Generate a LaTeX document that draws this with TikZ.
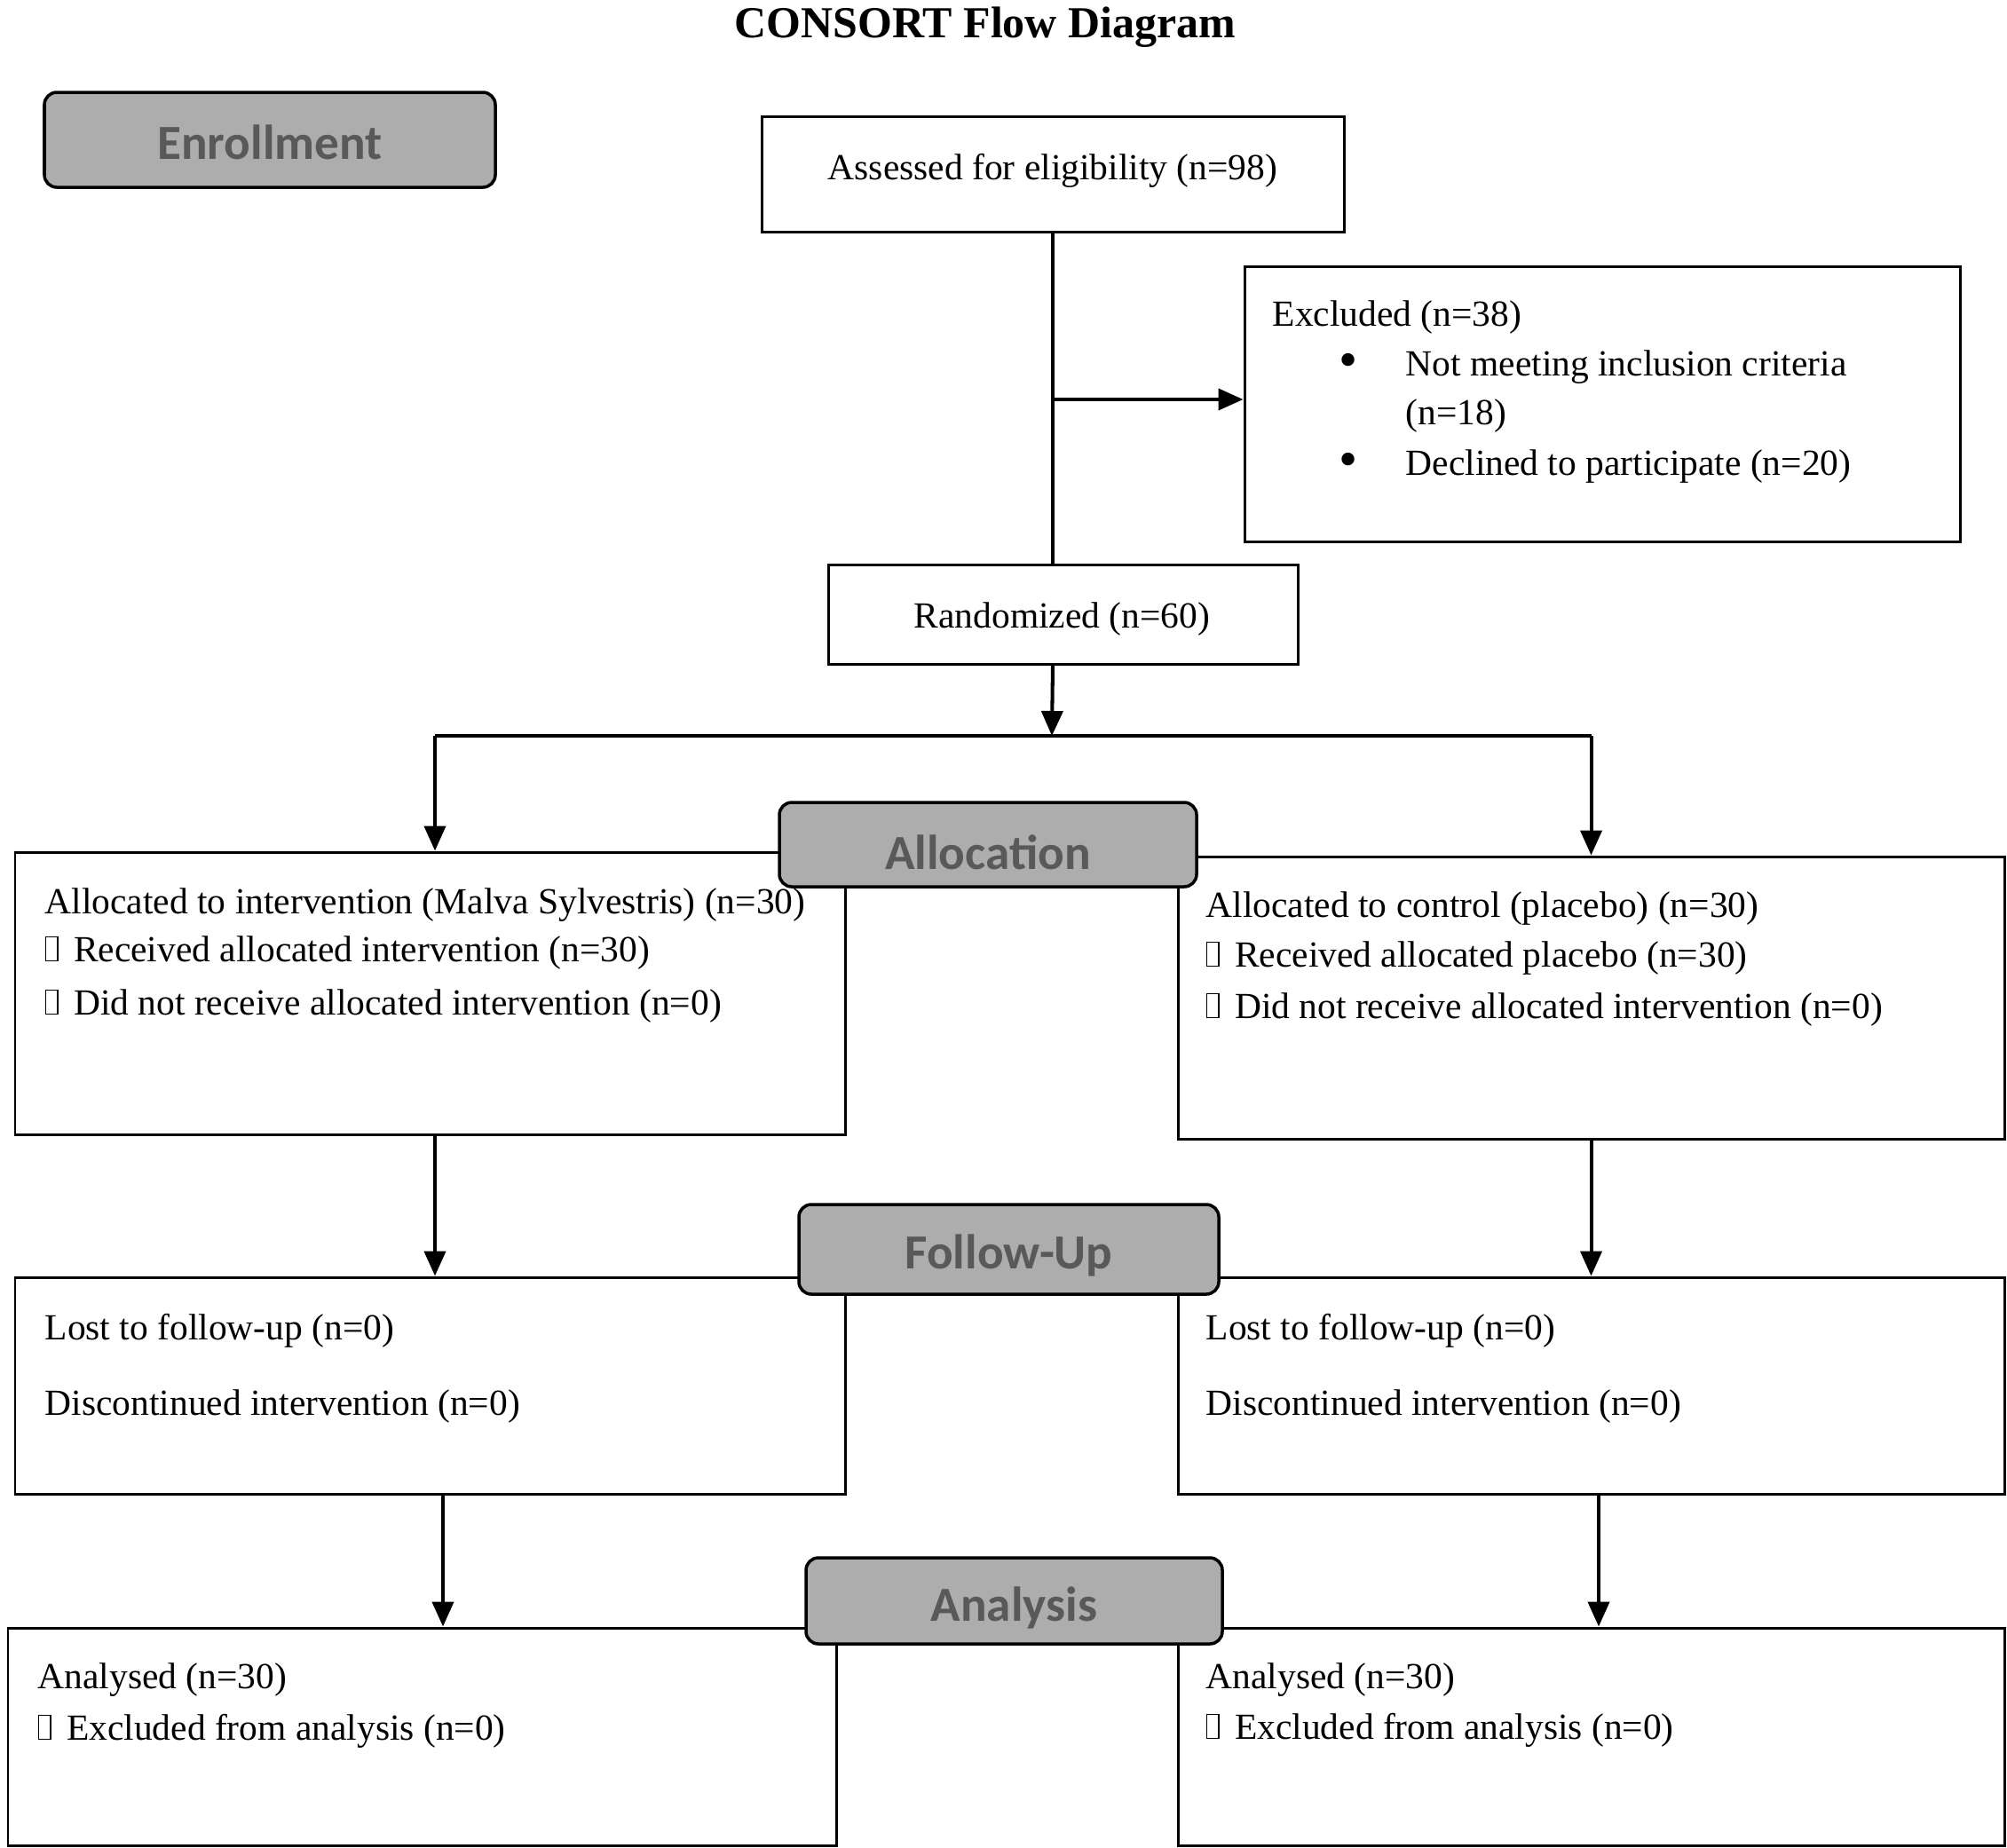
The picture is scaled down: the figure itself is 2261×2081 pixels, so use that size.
\documentclass[tikz,border=0pt]{standalone}
\usepackage{fontspec}
\setmainfont{Liberation Serif}
\newfontfamily\hdrfont{Carlito}
\usetikzlibrary{fit,arrows.meta,calc}
\definecolor{hdrfill}{HTML}{ADADAD}
\definecolor{hdrtext}{HTML}{595959}
\newcommand\tofu{{\setlength\fboxsep{0pt}\setlength\fboxrule{0.35pt}\raisebox{0.02em}{\fbox{\rule{0pt}{0.62em}\hspace{0.3em}}}}\hspace{0.42em}}
\newcommand\bigbullet{\raisebox{-0.05em}{\scalebox{1.45}{\textbullet}}}
\tikzset{
  box/.style={draw, line width=0.85pt, inner sep=0pt},
  hdr/.style={draw, line width=1pt, fill=hdrfill, rounded corners=0.14cm, inner sep=0pt},
  hdrtxt/.style={inner sep=0pt, font=\hdrfont\bfseries\fontsize{15.7}{18}\selectfont, text=hdrtext},
  ctxt/.style={inner sep=0pt, font=\fontsize{11.8}{14}\selectfont},
  txt/.style={anchor=base west, inner sep=0pt, font=\fontsize{11.8}{14}\selectfont},
  arr/.style={line width=1.15pt, -{Triangle[length=0.28cm,width=0.24cm]}},
  ln/.style={line width=1.15pt}
}
\begin{document}
\begin{tikzpicture}[x=0.01cm,y=-0.01cm]
\useasboundingbox (0,0) rectangle (2261,2081);
\node[font=\bfseries\fontsize{14.2}{17}\selectfont, inner sep=0pt] (title) at (1110,31) {CONSORT Flow Diagram};

% boxes
\node[box, fit={(858,131) (1514,261)}] (assess) {};
\node[ctxt] (assesst) at ([yshift=0.04cm]assess.center) {Assessed for eligibility (n=98)};
\node[box, fit={(1402,300) (2208,610)}] (excl) {};
\node[box, fit={(933,636) (1462,748)}] (rand) {};
\node[ctxt] (randt) at ([xshift=-0.01cm,yshift=-0.05cm]rand.center) {Randomized (n=60)};
\node[box, fit={(17,960) (952,1278)}] (allocL) {};
\node[box, fit={(1327,965) (2258,1283)}] (allocR) {};
\node[box, fit={(17,1439) (952,1683)}] (fuL) {};
\node[box, fit={(1327,1439) (2258,1683)}] (fuR) {};
\node[box, fit={(9,1834) (942,2079)}] (anL) {};
\node[box, fit={(1327,1834) (2258,2079)}] (anR) {};

% texts
\node[txt] (ex1) at (1433,367) {Excluded (n=38)};
\node[txt] (exb1) at (1508,423) {\bigbullet};
\node[txt] (ex2) at (1583,423) {Not meeting inclusion criteria};
\node[txt] (ex3) at (1583,478) {(n=18)};
\node[txt] (exb2) at (1508,535) {\bigbullet};
\node[txt] (ex4) at (1583,535) {Declined to participate (n=20)};

\node[txt] (al1) at (50,1029) {Allocated to intervention (Malva Sylvestris) (n=30)};
\node[txt] (al2) at (50,1083) {\tofu Received allocated intervention (n=30)};
\node[txt] (al3) at (50,1143) {\tofu Did not receive allocated intervention (n=0)};
\node[txt] (ar1) at (1358,1033) {Allocated to control (placebo) (n=30)};
\node[txt] (ar2) at (1358,1089) {\tofu Received allocated placebo (n=30)};
\node[txt] (ar3) at (1358,1147) {\tofu Did not receive allocated intervention (n=0)};

\node[txt] (fl1) at (50,1509) {Lost to follow-up (n=0)};
\node[txt] (fl2) at (50,1594) {Discontinued intervention (n=0)};
\node[txt] (fr1) at (1358,1509) {Lost to follow-up (n=0)};
\node[txt] (fr2) at (1358,1594) {Discontinued intervention (n=0)};

\node[txt] (nl1) at (42,1902) {Analysed (n=30)};
\node[txt] (nl2) at (42,1960) {\tofu Excluded from analysis (n=0)};
\node[txt] (nr1) at (1358,1902) {Analysed (n=30)};
\node[txt] (nr2) at (1358,1959) {\tofu Excluded from analysis (n=0)};

% connectors
\draw[ln] (assess.south) -- (assess.south |- rand.north);
\coordinate (branch) at (1185,450);
\draw[arr] (branch) -- (branch -| excl.west);
\coordinate (split) at (1185,829);
\draw[arr] (assess.south |- rand.south) -- (split);
\coordinate (splitL) at (490,829);
\coordinate (splitR) at (allocR.north |- split);
\draw[ln] (splitL) -- (splitR);
\draw[arr] (splitL) -- (splitL |- allocL.north);
\draw[arr] (splitR) -- (allocR.north);
\coordinate (alLo) at (splitL |- allocL.south);
\draw[arr] (alLo) -- (alLo |- fuL.north);
\draw[arr] (allocR.south) -- (allocR.south |- fuR.north);
\coordinate (fuLo) at (499,1683);
\coordinate (fuRo) at (1801,1683);
\draw[arr] (fuLo) -- (fuLo |- anL.north);
\draw[arr] (fuRo) -- (fuRo |- anR.north);

% headers
\node[hdr, fit={(50,104) (558,211)}] (enroll) {};
\node[hdrtxt] (enrollt) at ([yshift=-0.03cm]enroll.center) {Enrollment};
\node[hdr, fit={(878,904) (1348,999)}] (alloc) {};
\node[hdrtxt] (alloct) at ([yshift=-0.09cm]alloc.center) {Allocation};
\node[hdr, fit={(900,1357) (1373,1458)}] (follow) {};
\node[hdrtxt] (followt) at ([yshift=-0.07cm]follow.center) {Follow-Up};
\node[hdr, fit={(908,1755) (1377,1852)}] (analysis) {};
\node[hdrtxt] (analysist) at ([yshift=-0.08cm]analysis.center) {Analysis};
\end{tikzpicture}
\end{document}
